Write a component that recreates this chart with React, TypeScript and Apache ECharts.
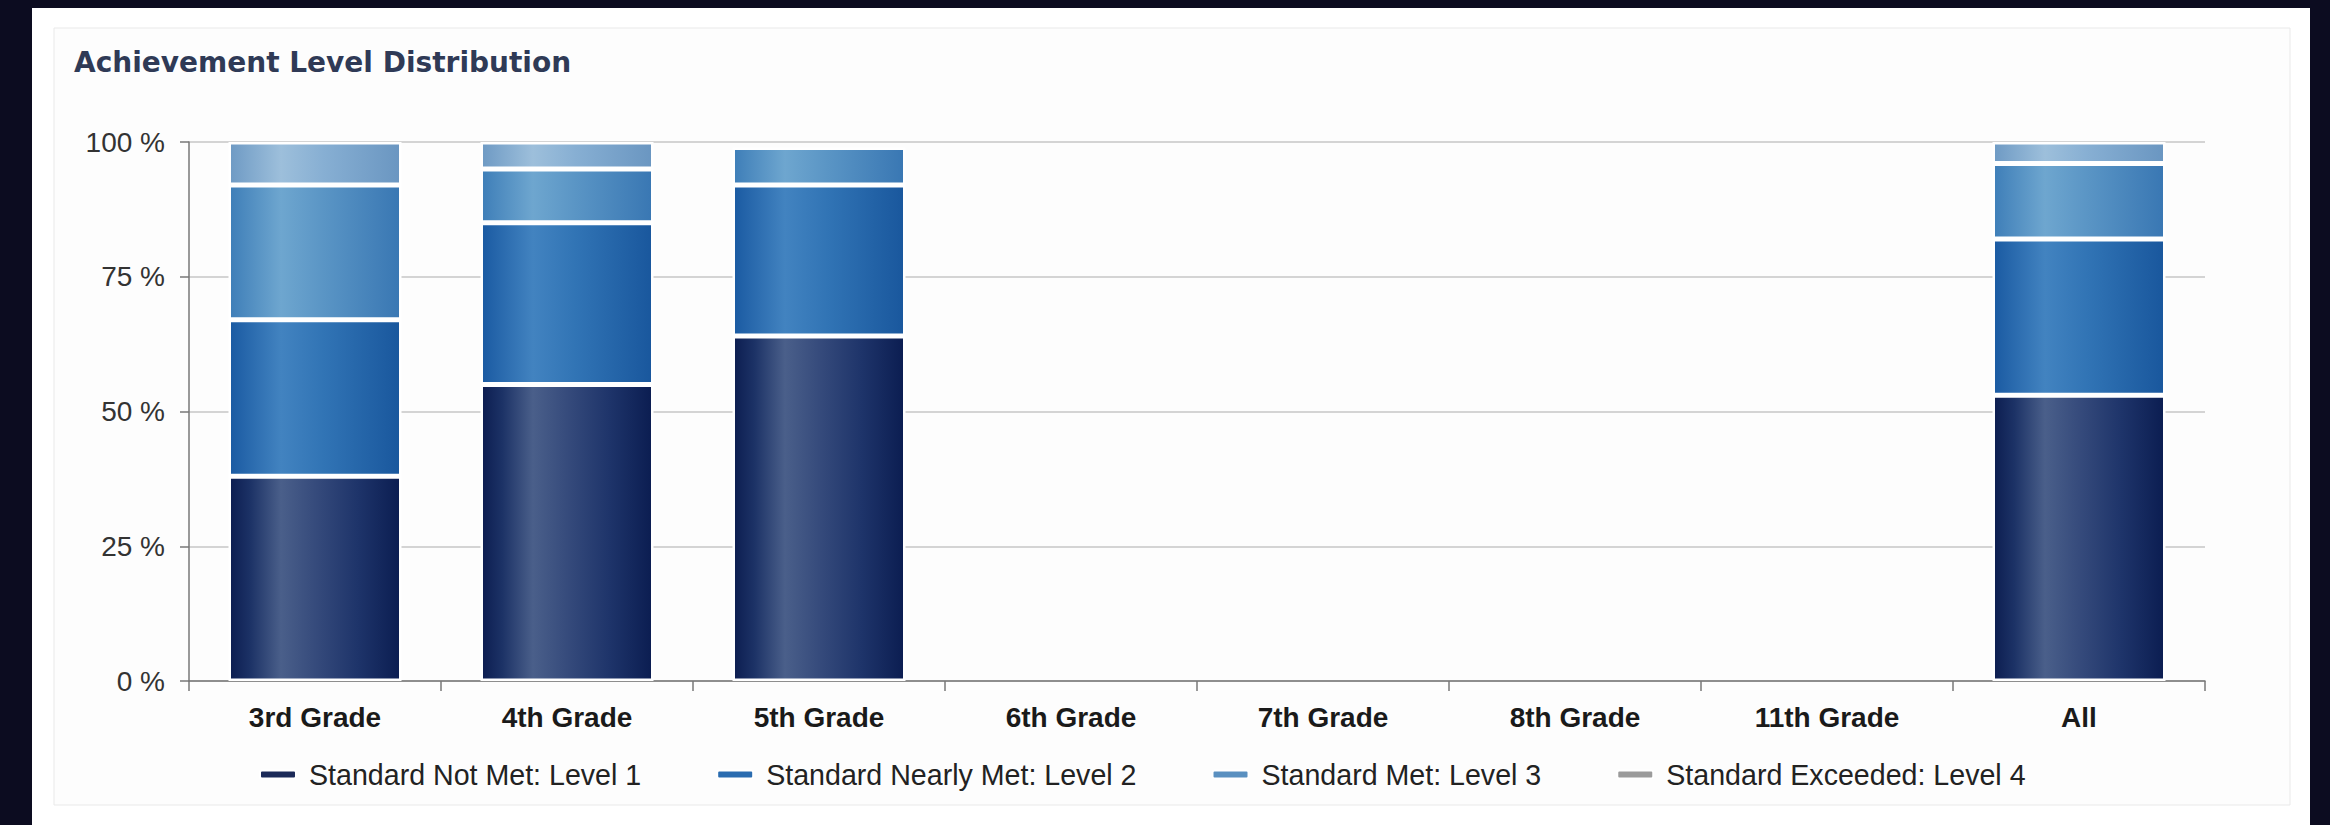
import { useEffect, useRef } from 'react';
import * as echarts from 'echarts';

// Grades shown on the category axis
const grades = ['3rd Grade', '4th Grade', '5th Grade', '6th Grade', '7th Grade', '8th Grade', '11th Grade', 'All'];

// Legend / series names
const levelNames = [
  'Standard Not Met: Level 1',
  'Standard Nearly Met: Level 2',
  'Standard Met: Level 3',
  'Standard Exceeded: Level 4',
];

// Percent of students at each achievement level, per grade
const notMet = [38, 55, 64, null, null, null, null, 53];
const nearlyMet = [29, 30, 28, null, null, null, null, 29];
const met = [25, 10, 7, null, null, null, null, 14];
const exceeded = [8, 5, null, null, null, null, null, 4];

// Value-axis ticks (percent)
const yTicks = [0, 25, 50, 75, 100];

const FONT = '"Liberation Sans", Arial, Helvetica, sans-serif';

const hGrad = (stops: [number, string][]) =>
  new echarts.graphic.LinearGradient(0, 0, 1, 0, stops.map(([offset, color]) => ({ offset, color })));

const fills = [
  hGrad([[0, '#0c1d50'], [0.12, '#1c3266'], [0.3, '#4a5f8a'], [0.5, '#364b7c'], [0.75, '#1e346a'], [1, '#0b1d51']]),
  hGrad([[0, '#1a5aa2'], [0.3, '#4283c0'], [0.55, '#3174b5'], [1, '#19579d']]),
  hGrad([[0, '#3e7eb8'], [0.3, '#6ea6cf'], [0.55, '#5a95c5'], [1, '#3977b3']]),
  hGrad([[0, '#6e9ac4'], [0.3, '#9dbfdb'], [0.55, '#87afd3'], [1, '#6a96c1']]),
];

const legendColors = ['#1b2a58', '#2a6cb0', '#5a90c0', '#9b9b9b'];

const seriesValues = [notMet, nearlyMet, met, exceeded];

export default function App() {
  const ref = useRef<HTMLDivElement>(null);

  useEffect(() => {
    if (!ref.current) return;
    const chart = echarts.init(ref.current, undefined, { renderer: 'svg' });

    chart.setOption({
      animation: false,
      backgroundColor: '#0c0c20',
      graphic: [
        {
          type: 'rect',
          z: -20,
          shape: { x: 32, y: 8, width: 2278, height: 830 },
          style: { fill: '#ffffff' },
        },
        {
          type: 'rect',
          z: -19,
          shape: { x: 54, y: 28, width: 2236, height: 777 },
          style: { fill: '#fdfdfd', stroke: '#e9e9e9', lineWidth: 1 },
        },
        {
          type: 'text',
          left: 74,
          top: 48,
          style: {
            text: 'Achievement Level Distribution',
            font: 'bold 28px "DejaVu Sans", sans-serif',
            fill: '#2f3a56',
          },
        },
      ],
      legend: {
        left: 254,
        top: 755,
        itemWidth: 36,
        itemHeight: 8,
        itemGap: 75,
        icon: 'roundRect',
        selectedMode: false,
        textStyle: { fontFamily: FONT, fontSize: 28.6, color: '#222', padding: [0, 0, 0, 8] },
        data: levelNames.map((name, i) => ({ name, itemStyle: { color: legendColors[i] } })),
      },
      grid: {
        left: 189,
        right: 125,
        top: 142,
        bottom: 144,
        containLabel: false,
      },
      xAxis: {
        type: 'category',
        data: grades,
        axisLine: { show: true, lineStyle: { color: '#777', width: 1.5 } },
        axisTick: { show: true, length: 10, interval: 0, lineStyle: { color: '#777', width: 1.5 } },
        axisLabel: {
          interval: 0,
          margin: 22,
          fontFamily: FONT,
          fontSize: 28,
          fontWeight: 'bold',
          color: '#1a1a1a',
        },
      },
      yAxis: {
        type: 'value',
        min: yTicks[0],
        max: yTicks[yTicks.length - 1],
        interval: yTicks[1] - yTicks[0],
        axisLine: { show: true, lineStyle: { color: '#777', width: 1.5 } },
        axisTick: { show: true, length: 9, lineStyle: { color: '#777', width: 1.5 } },
        axisLabel: {
          margin: 24,
          formatter: '{value} %',
          fontFamily: FONT,
          fontSize: 28,
          color: '#333',
        },
        splitLine: { show: true, lineStyle: { color: '#c6c6c6', width: 1.5 } },
      },
      series: seriesValues.map((values, i) => ({
        name: levelNames[i],
        type: 'bar',
        stack: 'levels',
        barWidth: 173,
        data: values,
        itemStyle: { color: fills[i], borderColor: '#ffffff', borderWidth: 2.5 },
      })),
    });

    return () => chart.dispose();
  }, []);

  return (
    <div
      ref={ref}
      style={{ position: 'absolute', left: 0, top: 0, width: 2330, height: 825 }}
    />
  );
}
